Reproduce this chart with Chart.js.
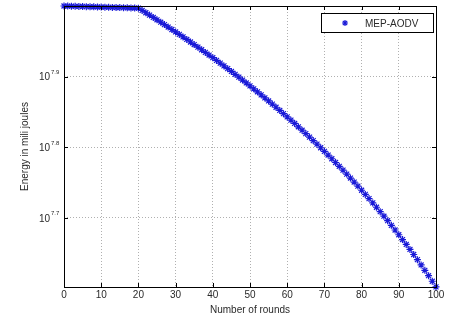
<!DOCTYPE html>
<html>
<head>
<meta charset="utf-8">
<script src="https://cdn.jsdelivr.net/npm/chart.js@4.4.1/dist/chart.umd.min.js"></script>
<style>
  body { margin: 0; background: #fff; }
  canvas { display: block; }
</style>
</head>
<body>
<canvas id="energy-chart" width="461" height="326"></canvas>
<script>
// data (energy in milli joules, millions)
const rounds = Array.from({length: 101}, (_, i) => i);
const energyMillions = [
  100.0, 99.97, 99.93, 99.9, 99.86, 99.83, 99.79, 99.76, 99.72, 99.69,
  99.65, 99.62, 99.58, 99.55, 99.51, 99.48, 99.44, 99.41, 99.37, 99.34,
  99.3, 98.56, 97.82, 97.08, 96.34, 95.6, 94.85, 94.11, 93.37, 92.63,
  91.89, 91.15, 90.41, 89.67, 88.93, 88.19, 87.44, 86.7, 85.96, 85.22,
  84.48, 83.74, 83.0, 82.26, 81.52, 80.78, 80.03, 79.29, 78.55, 77.81,
  77.07, 76.33, 75.59, 74.85, 74.11, 73.37, 72.62, 71.88, 71.14, 70.4,
  69.66, 68.92, 68.18, 67.44, 66.7, 65.96, 65.21, 64.47, 63.73, 62.99,
  62.25, 61.51, 60.77, 60.03, 59.29, 58.55, 57.8, 57.06, 56.32, 55.58,
  54.84, 54.1, 53.36, 52.62, 51.88, 51.14, 50.39, 49.65, 48.91, 48.17,
  47.43, 46.69, 45.95, 45.21, 44.47, 43.73, 42.98, 42.24, 41.5, 40.76,
  40.02,
];
const yTickExponents = [7.7, 7.8, 7.9];
const xTicks = [0, 10, 20, 30, 40, 50, 60, 70, 80, 90, 100];
const seriesName = 'MEP-AODV';

const textColor = '#2a2a2a';
const markerColor = 'rgb(25,25,215)';

// box, inward ticks, 10^x labels and legend, matlab style
const matlabBits = {
  id: 'matlabBits',
  afterDraw(chart) {
    const {ctx, chartArea: a, scales: {x, y}} = chart;
    ctx.save();
    ctx.strokeStyle = '#000';
    ctx.lineWidth = 1;
    ctx.strokeRect(Math.round(a.left) + 0.5, Math.round(a.top) + 0.5,
      Math.round(a.right - a.left), Math.round(a.bottom - a.top));

    ctx.beginPath();
    xTicks.forEach(t => {
      const px = Math.round(x.getPixelForValue(t)) + 0.5;
      ctx.moveTo(px, a.bottom); ctx.lineTo(px, a.bottom - 4);
      ctx.moveTo(px, a.top); ctx.lineTo(px, a.top + 4);
    });
    yTickExponents.forEach(e => {
      const py = Math.round(y.getPixelForValue(Math.pow(10, e))) + 0.5;
      ctx.moveTo(a.left, py); ctx.lineTo(a.left + 4, py);
      ctx.moveTo(a.right, py); ctx.lineTo(a.right - 4, py);
    });
    ctx.stroke();

    ctx.fillStyle = textColor;
    ctx.textBaseline = 'middle';
    yTickExponents.forEach(e => {
      const py = y.getPixelForValue(Math.pow(10, e));
      ctx.font = '10px "Liberation Sans"';
      ctx.textAlign = 'right';
      ctx.fillText('10', a.left - 14, py + 1);
      ctx.font = '6px "Liberation Sans"';
      ctx.textAlign = 'left';
      ctx.fillText(e.toFixed(1), a.left - 13, py - 4);
    });

    // legend
    const lx = a.right - 115, ly = a.top + 7, lw = 112, lh = 19;
    ctx.fillStyle = '#fff';
    ctx.fillRect(lx, ly, lw, lh);
    ctx.strokeRect(lx + 0.5, ly + 0.5, lw, lh);
    const mx = lx + 24, my = ly + 10;
    ctx.strokeStyle = markerColor;
    ctx.lineWidth = 1.2;
    ctx.beginPath();
    ctx.moveTo(mx - 3, my); ctx.lineTo(mx + 3, my);
    ctx.moveTo(mx, my - 3); ctx.lineTo(mx, my + 3);
    ctx.moveTo(mx - 2.2, my - 2.2); ctx.lineTo(mx + 2.2, my + 2.2);
    ctx.moveTo(mx - 2.2, my + 2.2); ctx.lineTo(mx + 2.2, my - 2.2);
    ctx.stroke();
    ctx.fillStyle = textColor;
    ctx.font = '10px "Liberation Sans"';
    ctx.textAlign = 'left';
    ctx.fillText(seriesName, lx + 44, my + 1);
    ctx.restore();
  },
};

const data = {
  datasets: [{
    label: seriesName,
    data: rounds.map((r, i) => ({x: r, y: energyMillions[i] * 1e6})),
    showLine: false,
    pointStyle: 'star',
    pointRadius: 3.5,
    borderWidth: 1.2,
    borderColor: markerColor,
    backgroundColor: markerColor,
    clip: false,
  }],
};

const config = {
  type: 'scatter',
  data,
  options: {
    responsive: false,
    animation: false,
    layout: { padding: { top: 6, right: 25, left: 0, bottom: 0 } },
    plugins: { legend: { display: false }, tooltip: { enabled: false } },
    scales: {
      x: {
        type: 'linear',
        min: 0,
        max: 100,
        afterBuildTicks: scale => { scale.ticks = xTicks.map(v => ({value: v})); },
        afterFit: scale => { scale.height = 39; },
        ticks: { color: textColor, font: { family: 'Liberation Sans', size: 10 }, padding: 2, maxRotation: 0 },
        grid: { color: '#b0b0b0', drawTicks: false, lineWidth: 1 },
        border: { display: false, dash: [1, 2] },
        title: {
          display: true,
          text: 'Number of rounds',
          color: textColor,
          font: { family: 'Liberation Sans', size: 10 },
          padding: { top: 0, bottom: 10 },
        },
      },
      y: {
        type: 'logarithmic',
        min: 40e6,
        max: 100e6,
        afterBuildTicks: scale => { scale.ticks = yTickExponents.map(e => ({value: Math.pow(10, e)})); },
        afterFit: scale => { scale.width = 64; },
        ticks: { display: false },
        grid: { color: '#b0b0b0', drawTicks: false, lineWidth: 1 },
        border: { display: false, dash: [1, 2] },
        title: {
          display: true,
          text: 'Energy in mili joules',
          color: textColor,
          font: { family: 'Liberation Sans', size: 10 },
          padding: { top: 19, bottom: 0 },
        },
      },
    },
  },
  plugins: [matlabBits],
};

new Chart(document.querySelector('#energy-chart'), config);
</script>
</body>
</html>
